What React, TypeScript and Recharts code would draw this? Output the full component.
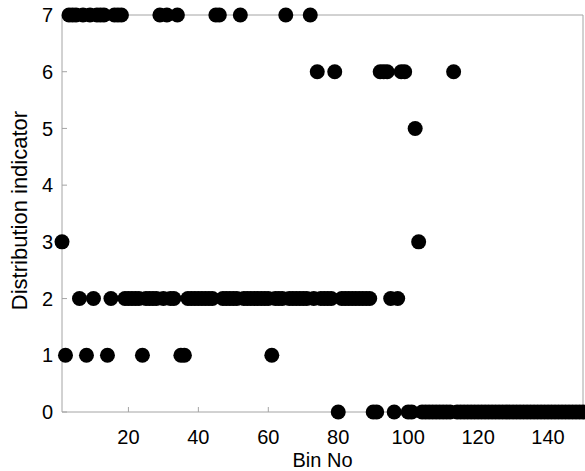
import React from 'react';
import { ScatterChart, Scatter, XAxis, YAxis } from 'recharts';

// Distribution indicator for each bin (bins 1..150), ten bins per row
const indicator: number[] = [
  3, 1, 7, 7, 7, 2, 7, 1, 7, 2, // 1-10
  7, 7, 7, 1, 2, 7, 7, 7, 2, 2, // 11-20
  2, 2, 2, 1, 2, 2, 2, 2, 7, 2, // 21-30
  7, 2, 2, 7, 1, 1, 2, 2, 2, 2, // 31-40
  2, 2, 2, 2, 7, 7, 2, 2, 2, 2, // 41-50
  2, 7, 2, 2, 2, 2, 2, 2, 2, 2, // 51-60
  1, 2, 2, 2, 7, 2, 2, 2, 2, 2, // 61-70
  2, 7, 2, 6, 2, 2, 2, 2, 6, 0, // 71-80
  2, 2, 2, 2, 2, 2, 2, 2, 2, 0, // 81-90
  0, 6, 6, 6, 2, 0, 2, 6, 6, 0, // 91-100
  0, 5, 3, 0, 0, 0, 0, 0, 0, 0, // 101-110
  0, 0, 6, 0, 0, 0, 0, 0, 0, 0, // 111-120
  0, 0, 0, 0, 0, 0, 0, 0, 0, 0, // 121-130
  0, 0, 0, 0, 0, 0, 0, 0, 0, 0, // 131-140
  0, 0, 0, 0, 0, 0, 0, 0, 0, 0, // 141-150
];

const xDomain: [number, number] = [1, 150];
const yDomain: [number, number] = [0, 7];
const xTicks = [20, 40, 60, 80, 100, 120, 140];
const yTicks = [0, 1, 2, 3, 4, 5, 6, 7];

const xLabel = 'Bin No';
const yLabel = 'Distribution indicator';

const data = indicator.map((value, i) => ({ bin: i + 1, value }));

const AXIS_GREY = '#a4a4a4';
const FONT = 'Arial, "Liberation Sans", sans-serif';
const tickStyle = { fontFamily: FONT, fontSize: 20, fill: '#000' };

const Marker = (props: any) => (
  <circle cx={props.cx} cy={props.cy} r={7.5} fill="#000" />
);

// mirrored axes keep their tick marks but show no numbers
const NoLabel = () => <g />;

const XTitle = (props: any) => {
  const vb = props.viewBox;
  return (
    <text
      x={vb.x + vb.width / 2}
      y={vb.y + vb.height - 4}
      textAnchor="middle"
      fontFamily={FONT}
      fontSize={20}
      fill="#000"
    >
      {xLabel}
    </text>
  );
};

const YTitle = (props: any) => {
  const vb = props.viewBox;
  const x = vb.x + 27;
  const y = vb.y + vb.height / 2 - 3;
  return (
    <text
      x={x}
      y={y}
      textAnchor="middle"
      transform={`rotate(-90, ${x}, ${y})`}
      fontFamily={FONT}
      fontSize={22}
      fill="#000"
    >
      {yLabel}
    </text>
  );
};

export default function App() {
  return (
    <div style={{ position: 'absolute', left: 0, top: 0, width: 585, height: 471, background: '#fff' }}>
      <ScatterChart width={585} height={471} margin={{ top: 14, right: 1, bottom: 0, left: 0 }}>
        <XAxis
          dataKey="bin"
          type="number"
          domain={xDomain}
          ticks={xTicks}
          height={59}
          tickSize={-5}
          tickMargin={23}
          tick={tickStyle}
          stroke={AXIS_GREY}
          label={{ content: XTitle }}
        />
        <XAxis
          xAxisId="top"
          orientation="top"
          dataKey="bin"
          type="number"
          domain={xDomain}
          ticks={xTicks}
          height={1}
          tickSize={-5}
          tick={NoLabel}
          stroke={AXIS_GREY}
        />
        <YAxis
          dataKey="value"
          type="number"
          domain={yDomain}
          ticks={yTicks}
          width={62}
          tickSize={-5}
          tickMargin={14}
          tick={tickStyle}
          stroke={AXIS_GREY}
          label={{ content: YTitle }}
        />
        <YAxis
          yAxisId="right"
          orientation="right"
          dataKey="value"
          type="number"
          domain={yDomain}
          ticks={yTicks}
          width={1}
          tickSize={-5}
          tick={NoLabel}
          stroke={AXIS_GREY}
        />
        <Scatter data={data} dataKey="value" shape={Marker} isAnimationActive={false} />
      </ScatterChart>
    </div>
  );
}
